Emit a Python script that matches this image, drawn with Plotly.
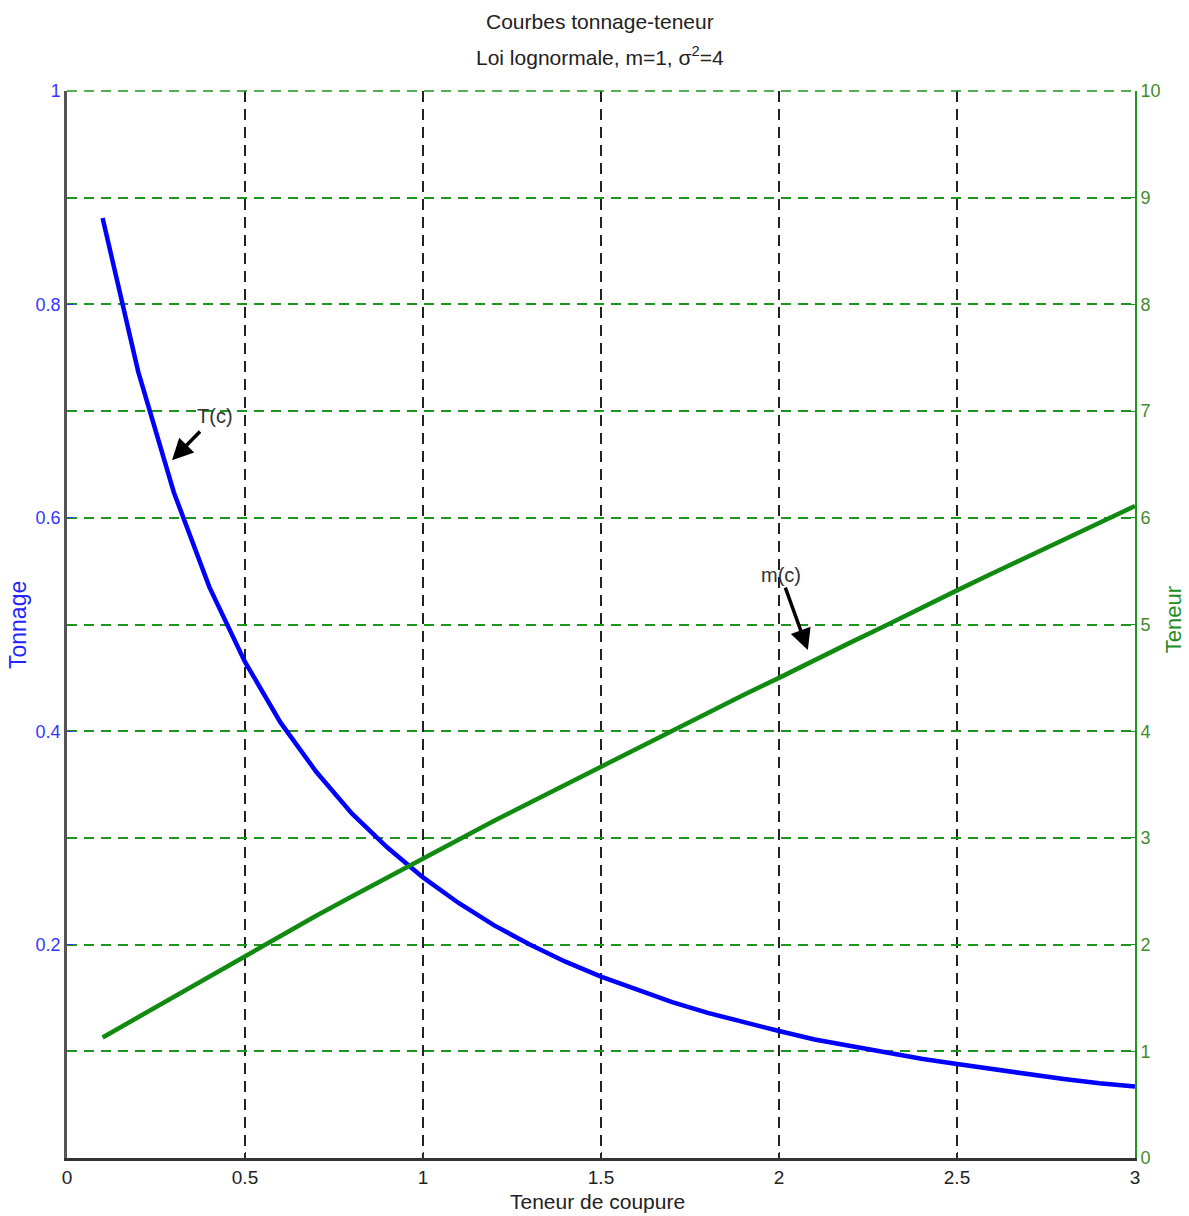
import plotly.graph_objects as go

# Cut-off grade c
cutoff = [0.1, 0.2, 0.3, 0.4, 0.5, 0.6, 0.7, 0.8, 0.9, 1.0,
          1.1, 1.2, 1.3, 1.4, 1.5, 1.6, 1.7, 1.8, 1.9, 2.0,
          2.1, 2.2, 2.3, 2.4, 2.5, 2.6, 2.7, 2.8, 2.9, 3.0]
# Tonnage T(c) (left axis)
tonnage = [0.881, 0.737, 0.624, 0.535, 0.465, 0.408, 0.362, 0.323, 0.291, 0.263,
           0.239, 0.218, 0.200, 0.184, 0.170, 0.158, 0.146, 0.136, 0.127, 0.119,
           0.111, 0.105, 0.098, 0.093, 0.088, 0.083, 0.078, 0.074, 0.070, 0.067]
# Mean grade m(c) (right axis)
teneur = [1.13, 1.32, 1.51, 1.71, 1.90, 2.08, 2.27, 2.45, 2.63, 2.80,
          2.98, 3.16, 3.33, 3.50, 3.67, 3.84, 4.00, 4.17, 4.34, 4.50,
          4.67, 4.83, 4.99, 5.16, 5.32, 5.48, 5.64, 5.80, 5.96, 6.11]

x_ticks = [0, 0.5, 1, 1.5, 2, 2.5, 3]
x_ticklabels = ["0", "0.5", "1", "1.5", "2", "2.5", "3"]
y_ticks = [0.2, 0.4, 0.6, 0.8, 1.0]
y_ticklabels = ["0.2", "0.4", "0.6", "0.8", "1"]
y2_ticks = [0, 1, 2, 3, 4, 5, 6, 7, 8, 9, 10]
y2_ticklabels = [str(v) for v in y2_ticks]

SANS = "Liberation Sans, Arial, sans-serif"
BLUE_TXT = "#3535ff"
GREEN_TXT = "#3f8c2a"

fig = go.Figure()
fig.add_trace(go.Scatter(x=cutoff, y=tonnage, mode="lines", yaxis="y",
                         line=dict(color="#0000ff", width=4.5), showlegend=False))
fig.add_trace(go.Scatter(x=cutoff, y=teneur, mode="lines", yaxis="y2",
                         line=dict(color="#108a10", width=4.5), showlegend=False))

fig.update_layout(
    width=1189, height=1216,
    margin=dict(l=67, r=54, t=91, b=58),
    plot_bgcolor="white", paper_bgcolor="white",
    xaxis=dict(range=[0, 3], tickvals=x_ticks, ticktext=x_ticklabels,
               showgrid=True, gridcolor="#222222", griddash="11px,7px", gridwidth=1.5,
               zeroline=False, showline=True, linecolor="#333333", linewidth=2.5,
               ticks="inside", ticklen=6, tickcolor="#333333",
               tickfont=dict(family=SANS, size=19, color="#222222")),
    yaxis=dict(range=[0, 1], tickvals=y_ticks, ticktext=y_ticklabels,
               showgrid=False, zeroline=False, showline=True,
               linecolor="#555555", linewidth=2.5,
               ticks="inside", ticklen=6, tickcolor=BLUE_TXT,
               tickfont=dict(family=SANS, size=18, color=BLUE_TXT)),
    yaxis2=dict(range=[0, 10], tickvals=y2_ticks, ticktext=y2_ticklabels,
                overlaying="y", side="right",
                showgrid=True, gridcolor="#1e961e", griddash="10px,7px", gridwidth=1.6,
                zeroline=False, showline=True, linecolor="#1e961e", linewidth=2,
                ticks="inside", ticklen=6, tickcolor="#1e961e",
                tickfont=dict(family=SANS, size=18, color=GREEN_TXT)),
    shapes=[
        dict(type="line", xref="paper", yref="paper", x0=0, x1=1, y0=1, y1=1,
             line=dict(color="#1e961e", width=1.6, dash="10px,7px")),
    ],
)

annotations = [
    dict(text="Courbes tonnage-teneur", xref="paper", yref="paper", x=0.499, y=1.0647,
         yanchor="middle", showarrow=False, font=dict(family=SANS, size=21, color="#222222")),
    dict(text="Loi lognormale, m=1, σ<sup>2</sup>=4", xref="paper", yref="paper",
         x=0.499, y=1.0325, yanchor="middle", showarrow=False,
         font=dict(family=SANS, size=21, color="#222222")),
    dict(text="Teneur de coupure", xref="paper", yref="paper", x=0.497, y=-0.0412,
         yanchor="middle", showarrow=False, font=dict(family=SANS, size=21, color="#222222")),
    dict(text="Tonnage", xref="paper", yref="paper", x=-0.0459, y=0.4995,
         xanchor="center", yanchor="middle",
         textangle=-90, showarrow=False, font=dict(family=SANS, size=23, color="#2424ff")),
    dict(text="Teneur", xref="paper", yref="paper", x=1.0356, y=0.504,
         xanchor="center", yanchor="middle",
         textangle=-90, showarrow=False, font=dict(family=SANS, size=22, color="#1e8c1e")),
    dict(text="T(c)", xref="x", yref="y", x=0.295, y=0.654, ax=43, ay=-44,
         showarrow=True, arrowhead=2, arrowsize=1.2, arrowwidth=3.5, arrowcolor="#000000",
         startstandoff=4,
         font=dict(family=SANS, size=20, color="#333333")),
    dict(text="m(c)", xref="x", yref="y", x=2.081, y=0.476, ax=-27, ay=-75,
         showarrow=True, arrowhead=2, arrowsize=1.2, arrowwidth=3.5, arrowcolor="#000000",
         font=dict(family=SANS, size=20, color="#333333")),
]
fig.update_layout(annotations=annotations)

fig.write_html("out.html")
